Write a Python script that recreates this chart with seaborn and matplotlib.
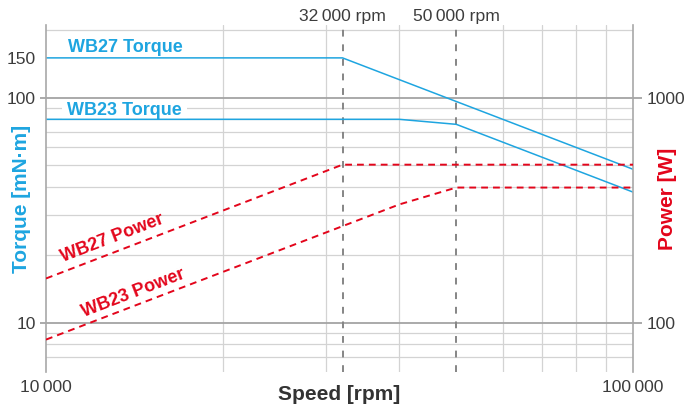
import matplotlib
matplotlib.use("Agg")
import numpy as np
import matplotlib.pyplot as plt
from matplotlib.ticker import LogLocator, NullFormatter, FixedLocator, FixedFormatter
import seaborn as sns

# Valeurs (vitesse en rpm, couple en mN.m, puissance en W)
speed_wb27 = [10000, 32000, 100000]
torque_wb27 = [150, 150, 48]
power_wb27 = [157, 503, 503]

speed_wb23 = [10000, 40000, 50000, 100000]
torque_wb23 = [80, 80, 76, 38]
power_wb23 = [84, 335, 398, 398]

speed_marks = [32000, 50000]
speed_mark_labels = ["32\u2009000 rpm", "50\u2009000 rpm"]

x_ticks = [10000, 100000]
x_tick_labels = ["10\u2009000", "100\u2009000"]
torque_ticks = [10, 100, 150]
power_ticks = [100, 1000]

BLUE = "#1ea5e0"
RED = "#e3051b"
TXT = "#3c3c3c"
GRID_MAJ = "#a4a4a4"
GRID_MIN = "#d3d3d3"

sns.set_style("white")
plt.rcParams['font.family'] = ['Liberation Sans', 'DejaVu Sans']

fig = plt.figure(figsize=(6.89, 4.08), dpi=100)
ax = fig.add_axes([46/689, 36/408, 587/689, 347/408])
ax.set_xscale('log')
ax.set_yscale('log')
ax2 = ax.twinx()
ax2.set_yscale('log')

torque_lim = (6.03, 210)
ax.set_xlim(10000, 100000)
ax.set_ylim(*torque_lim)
ax2.set_ylim(torque_lim[0] * 10, torque_lim[1] * 10)

# couple (axe gauche)
sns.lineplot(x=speed_wb27, y=torque_wb27, ax=ax, color=BLUE, lw=1.1, estimator=None)
sns.lineplot(x=speed_wb23, y=torque_wb23, ax=ax, color=BLUE, lw=1.1, estimator=None)

# puissance (axe droit)
dash = (0, (3.5, 2.6))
sns.lineplot(x=speed_wb27, y=power_wb27, ax=ax2, color=RED, lw=1.4, linestyle=dash, estimator=None)
sns.lineplot(x=speed_wb23, y=power_wb23, ax=ax2, color=RED, lw=1.4, linestyle=dash, estimator=None)

# lignes verticales de vitesse
for s, lab in zip(speed_marks, speed_mark_labels):
    ax.axvline(s, color="#858585", lw=1.4, linestyle=(0, (3.5, 4)), zorder=1.8)
    ax.text(s, 1.012, lab, transform=ax.get_xaxis_transform(), ha='center',
            va='baseline', fontsize=12.6, color=TXT)

# grille
ax.xaxis.set_minor_locator(LogLocator(base=10, subs=[2, 3, 4, 6, 7, 8, 9]))
ax.yaxis.set_minor_locator(LogLocator(base=10, subs=np.arange(2, 10)))
ax.xaxis.set_minor_formatter(NullFormatter())
ax.yaxis.set_minor_formatter(NullFormatter())
ax2.yaxis.set_minor_formatter(NullFormatter())
ax.set_axisbelow(True)
ax.grid(which='minor', axis='both', color=GRID_MIN, lw=0.9)
ax.grid(which='major', axis='y', color=GRID_MAJ, lw=1.3)
ax.grid(which='major', axis='x', visible=False)

ax.xaxis.set_major_locator(FixedLocator(x_ticks))
ax.xaxis.set_major_formatter(FixedFormatter(x_tick_labels))
ax.yaxis.set_major_locator(FixedLocator(torque_ticks))
ax.yaxis.set_major_formatter(FixedFormatter([str(t) for t in torque_ticks]))
ax2.yaxis.set_major_locator(FixedLocator(power_ticks))
ax2.yaxis.set_major_formatter(FixedFormatter([str(t) for t in power_ticks]))

ax.tick_params(axis='y', which='major', length=4.5, width=1.3, color=GRID_MAJ, pad=3,
               labelsize=12.6, labelcolor=TXT)
ax.tick_params(axis='x', which='major', length=0, pad=6, labelsize=12.6, labelcolor=TXT)
ax.tick_params(which='minor', length=0)
ax2.tick_params(axis='y', which='major', length=6.5, width=1.3, color=GRID_MAJ, pad=3.5,
                labelsize=12.6, labelcolor=TXT)
ax2.tick_params(which='minor', length=0)

for side in ['top', 'bottom']:
    ax.spines[side].set_visible(False)
for side in ['left', 'right']:
    ax.spines[side].set_color("#a8a8a8")
    ax.spines[side].set_linewidth(1.2)
for side in ax2.spines:
    ax2.spines[side].set_visible(False)

# titres des axes
ax.set_xlabel("Speed [rpm]", fontsize=15, fontweight='bold', color="#333333")
ax.xaxis.set_label_coords(0.5, -0.038)
ax.set_ylabel("Torque [mN·m]", fontsize=15, fontweight='bold', color=BLUE, va='center')
ax.yaxis.set_label_coords(-0.041, 0.5)
ax2.set_ylabel("Power [W]", fontsize=15, fontweight='bold', color=RED, va='center')
ax2.yaxis.set_label_coords(1.0596, 0.5)

# étiquettes des courbes
ax.text(10900, 160, "WB27 Torque", fontsize=13, fontweight='bold', color=BLUE,
        ha='left', va='baseline')
ax.text(10650, 84, " WB23 Torque ", fontsize=13, fontweight='bold', color=BLUE,
        ha='left', va='baseline', zorder=1,
        bbox=dict(boxstyle='square,pad=0', facecolor='white', edgecolor='none'))
ax2.text(12950, 236, "WB27 Power", fontsize=13, fontweight='bold', color=RED,
         ha='center', va='center', rotation=21, rotation_mode='anchor')
ax2.text(14060, 135, "WB23 Power", fontsize=13, fontweight='bold', color=RED,
         ha='center', va='center', rotation=21, rotation_mode='anchor')

# pas de trait ni de grille pour 150 (positions connues après un premier rendu)
fig.canvas.draw()
for t in ax.yaxis.get_major_ticks():
    if t.get_loc() == 150:
        t.tick1line.set_visible(False)
        t.gridline.set_visible(False)

fig.savefig("out.png", dpi=100)
